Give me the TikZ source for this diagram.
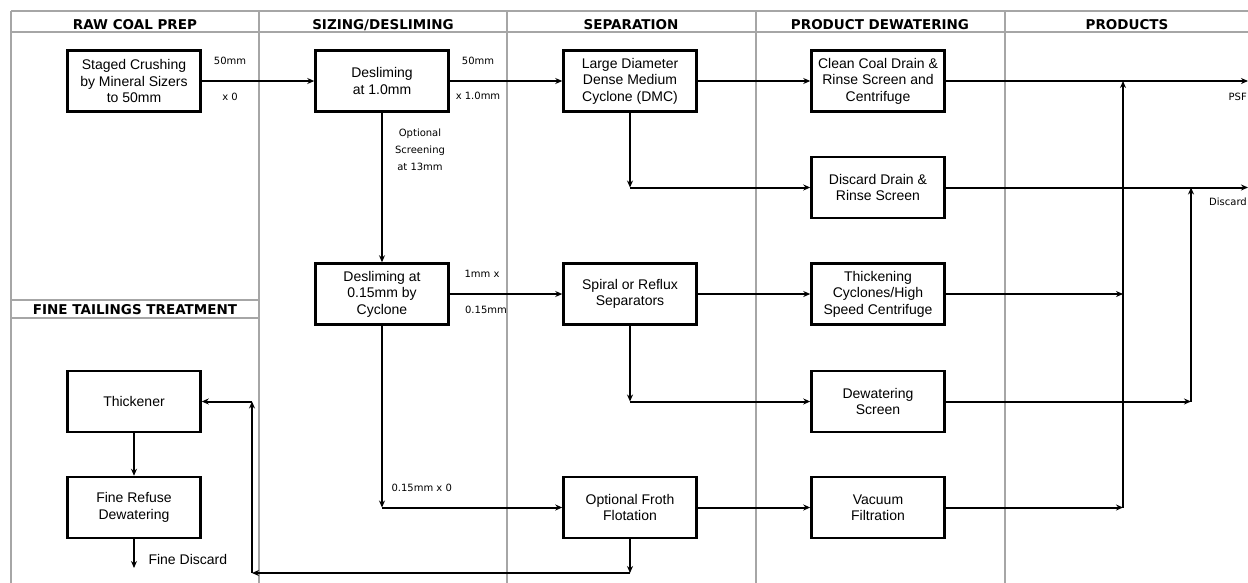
\documentclass[tikz,border=0pt]{standalone}
\usepackage{fontspec}
\setmainfont{Liberation Sans}
\newfontfamily\tagfont{DejaVu Sans}
\usetikzlibrary{arrows.meta}

\begin{document}
\begin{tikzpicture}[x=1pt, y=-1pt,
    >={Stealth[length=7pt, width=6pt]},
    box/.style={rectangle, line width=2.5pt, draw, minimum width=133pt, minimum height=61pt, align=center, font=\fontsize{14}{16.5}\selectfont},
    flow/.style={->, line width=2pt},
    grid/.style={gray!70, line width=1.5pt},
    head/.style={font=\tagfont\bfseries\fontsize{13.5}{16}\selectfont},
    tag/.style={font=\tagfont\fontsize{10}{17}\selectfont, align=center}]
    \useasboundingbox (0,0) rectangle (1248,582);
    \clip (0,0) rectangle (1248,582);

    \draw[grid] (11,11) -- (1260,11);
    \draw[grid] (11,32) -- (1260,32);
    \foreach \x in {11,259,507,756,1005} \draw[grid] (\x,11) -- (\x,590);
    \draw[grid] (11,300) -- (259,300);
    \draw[grid] (11,318) -- (259,318);

    \node[head] (h_raw) at (135,25) {RAW COAL PREP};
    \node[head] (h_size) at (383,25) {SIZING/DESLIMING};
    \node[head] (h_sep) at (631,25) {SEPARATION};
    \node[head] (h_dew) at (880,25) {PRODUCT DEWATERING};
    \node[head] (h_prod) at (1127,25) {PRODUCTS};
    \node[head] (h_fine) at (135,309.5) {FINE TAILINGS TREATMENT};

    \node[box] (crush) at (134,81) {Staged Crushing\\by Mineral Sizers\\to 50mm};
    \node[box, xshift=248] (deslime) at (crush) {Desliming\\at 1.0mm};
    \node[box, xshift=248] (dmc) at (deslime) {Large Diameter\\Dense Medium\\Cyclone (DMC)};
    \node[box, xshift=248] (clean) at (dmc) {Clean Coal Drain \&\\Rinse Screen and\\Centrifuge};
    \node[box, yshift=-106.5] (discard) at (clean) {Discard Drain \&\\Rinse Screen};

    \node[box] (cyclone) at (382,294) {Desliming at\\0.15mm by\\Cyclone};
    \node[box, xshift=248] (spiral) at (cyclone) {Spiral or Reflux\\Separators};
    \node[box, xshift=248] (thicken) at (spiral) {Thickening\\Cyclones/High\\Speed Centrifuge};
    \node[box, yshift=-107.5] (dewater) at (thicken) {Dewatering\\Screen};

    \node[box] (froth) at (630,507.5) {Optional Froth\\Flotation};
    \node[box, xshift=248] (vacuum) at (froth) {Vacuum\\Filtration};
    \node[box] (thickener) at (134,401.5) {Thickener};
    \node[box, yshift=-106] (refuse) at (thickener) {Fine Refuse\\Dewatering};

    \node[tag] (t_50a) at (230,61) {50mm};
    \node[tag] (t_x0) at (230,97) {x 0};
    \node[tag] (t_50b) at (478,61) {50mm};
    \node[tag] (t_x1) at (478,96) {x 1.0mm};
    \node[tag] (t_screen) at (420,150) {Optional\\Screening\\at 13mm};
    \node[tag] (t_1mm) at (482,274) {1mm x};
    \node[tag] (t_015) at (486,310) {0.15mm};
    \node[tag, anchor=west] (t_fines) at (388,488) {0.15mm x 0};
    \node[tag, anchor=east, inner sep=0pt] (t_psf) at (1247,97) {PSF};
    \node[tag, anchor=east, inner sep=0pt] (t_disc) at (1247,202) {Discard};
    \node[anchor=west, font=\fontsize{14}{16.5}\selectfont] (t_fine) at (145,559) {Fine Discard};

    \coordinate (bottom) at (0,573);
    \coordinate (back) at (252,573);
    \coordinate (psf) at (1248,81);
    \coordinate (disc) at (1248,187.5);
    \coordinate (psfbus) at (1123,81);
    \coordinate (discbus) at (1191,187.5);
    \coordinate (finedisc) at (134,568);

    \draw[flow] (crush.east) -- (deslime.west);
    \draw[flow] (deslime.east) -- (dmc.west);
    \draw[flow] (dmc.east) -- (clean.west);
    \draw[flow] (dmc.south) -- (dmc |- discard);
    \draw[flow] (dmc |- discard) -- (discard.west);
    \draw[flow] (deslime.south) -- (cyclone.north);
    \draw[flow] (cyclone.east) -- (spiral.west);
    \draw[flow] (spiral.east) -- (thicken.west);
    \draw[flow] (spiral.south) -- (spiral |- dewater);
    \draw[flow] (spiral |- dewater) -- (dewater.west);
    \draw[flow] (cyclone.south) -- (cyclone |- froth);
    \draw[flow] (cyclone |- froth) -- (froth.west);
    \draw[flow] (froth.east) -- (vacuum.west);

    \draw[flow] (froth.south) -- (froth |- bottom);
    \draw[flow] (froth |- bottom) -- (back);
    \draw[flow] (back) -- (back |- thickener);
    \draw[flow] (back |- thickener) -- (thickener.east);
    \draw[flow] (thickener.south) -- (refuse.north);
    \draw[flow] (refuse.south) -- (finedisc);

    \draw[flow] (clean.east) -- (psf);
    \draw[flow] (discard.east) -- (disc);
    \draw[flow] (thicken.east) -- (psfbus |- thicken);
    \draw[flow] (vacuum.east) -- (psfbus |- vacuum);
    \draw[flow] (psfbus |- vacuum) -- (psfbus);
    \draw[flow] (dewater.east) -- (discbus |- dewater);
    \draw[flow] (discbus |- dewater) -- (discbus);
\end{tikzpicture}
\end{document}
